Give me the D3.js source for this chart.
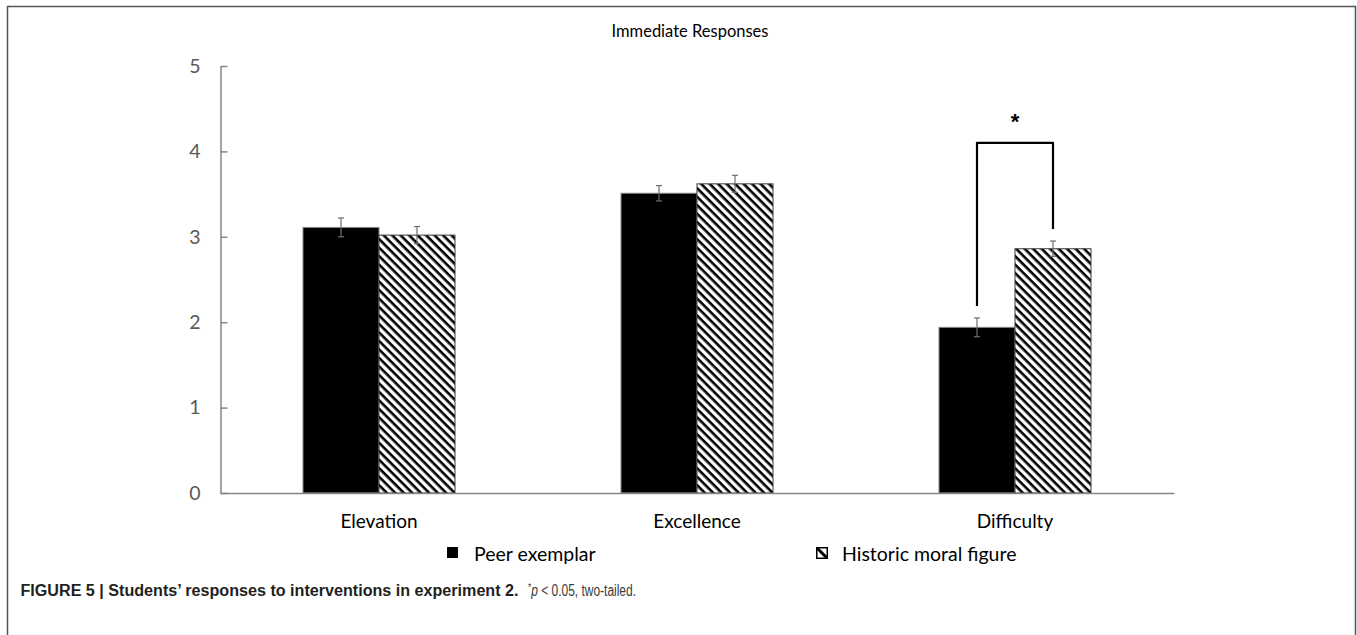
<!DOCTYPE html>
<html>
<head>
<meta charset="utf-8">
<script src="https://cdn.jsdelivr.net/npm/d3@7"></script>
<style>
  body { margin: 0; background: #fff; }
</style>
</head>
<body>
<div id="chart"></div>
<script>
var width = 1357,
    height = 635;

// ******* data ******* //
var categories = ["Elevation", "Excellence", "Difficulty"];
var seriesNames = ["Peer exemplar", "Historic moral figure"];
var peerValues = [3.11, 3.51, 1.94];
var peerErrors = [0.11, 0.09, 0.11];
var historicValues = [3.02, 3.62, 2.86];
var historicErrors = [0.10, 0.10, 0.09];
var yTicks = [0, 1, 2, 3, 4, 5];
var bracketLevel = 4.1;   // height of the significance bracket
var bracketCategory = "Difficulty";

var chartFont = "Lato, 'Open Sans', sans-serif";
var captionFont = "'Liberation Sans', Arial, sans-serif";

var svg = d3.select("#chart")
    .append("svg")
    .attr("width", width)
    .attr("height", height);

svg.append("rect").attr("width", width).attr("height", height).attr("fill", "#fff");

// hatch pattern (downward diagonal)
var defs = svg.append("defs");
var pat = defs.append("pattern")
    .attr("id", "hatch")
    .attr("patternUnits", "userSpaceOnUse")
    .attr("width", 6)
    .attr("height", 6)
    .attr("patternTransform", "rotate(45)");
pat.append("rect").attr("width", 6).attr("height", 6).attr("fill", "#fff");
pat.append("rect").attr("x", 0).attr("y", 0).attr("width", 6).attr("height", 2.6).attr("fill", "#000");

// outer frame (open at the bottom)
svg.append("path")
    .attr("d", "M7.5,640 L7.5,6.5 L1355.5,6.5 L1355.5,640")
    .attr("fill", "none")
    .attr("stroke", "#555")
    .attr("stroke-width", 1.5);

// ******* scales ******* //
var x0 = d3.scaleBand()
    .domain(categories)
    .range([220, 1174])
    .paddingInner(0.522)
    .paddingOuter(0.261);

var x1 = d3.scaleBand()
    .domain(seriesNames)
    .range([0, x0.bandwidth()]);

var y = d3.scaleLinear()
    .domain([0, 5])
    .range([493, 66]);

// ******* title ******* //
svg.append("text")
    .attr("x", 690)
    .attr("y", 37)
    .attr("text-anchor", "middle")
    .style("font-family", chartFont)
    .style("font-size", "16.5px")
    .attr("fill", "#000")
    .text("Immediate Responses");

// ******* bars ******* //
var rows = categories.map(function(c, i) {
    return [
        { cat: c, series: seriesNames[0], value: peerValues[i], err: peerErrors[i] },
        { cat: c, series: seriesNames[1], value: historicValues[i], err: historicErrors[i] }
    ];
});

var groups = svg.append("g").attr("class", "bars")
    .selectAll("g")
    .data(rows)
    .enter().append("g")
    .attr("transform", function(d) { return "translate(" + x0(d[0].cat) + ",0)"; });

groups.selectAll("rect")
    .data(function(d) { return d; })
    .enter().append("rect")
    .attr("x", function(d) { return x1(d.series); })
    .attr("y", function(d) { return y(d.value); })
    .attr("width", x1.bandwidth())
    .attr("height", function(d) { return y(0) - y(d.value); })
    .attr("fill", function(d) { return d.series === seriesNames[0] ? "#000" : "url(#hatch)"; })
    .attr("stroke", function(d) { return d.series === seriesNames[0] ? "#8a8a8a" : "#3a3a3a"; })
    .attr("stroke-width", 1);

// error bars
var eb = groups.selectAll("g.err")
    .data(function(d) { return d; })
    .enter().append("g")
    .attr("class", "err")
    .attr("stroke", "#6e6e6e")
    .attr("stroke-width", 1.2);

function cx(d) { return x1(d.series) + x1.bandwidth() / 2; }

eb.append("line")
    .attr("x1", cx).attr("x2", cx)
    .attr("y1", function(d) { return y(d.value + d.err); })
    .attr("y2", function(d) { return y(d.value - d.err); });
eb.append("line")
    .attr("x1", function(d) { return cx(d) - 3; }).attr("x2", function(d) { return cx(d) + 3; })
    .attr("y1", function(d) { return y(d.value + d.err); })
    .attr("y2", function(d) { return y(d.value + d.err); });
eb.append("line")
    .attr("x1", function(d) { return cx(d) - 3; }).attr("x2", function(d) { return cx(d) + 3; })
    .attr("y1", function(d) { return y(d.value - d.err); })
    .attr("y2", function(d) { return y(d.value - d.err); });

// ******* axes ******* //
var yAxis = d3.axisLeft(y)
    .tickValues(yTicks)
    .tickSizeInner(-7)
    .tickSizeOuter(0)
    .tickPadding(20)
    .tickFormat(d3.format("d"));

var gy = svg.append("g")
    .attr("transform", "translate(220.5,0)")
    .call(yAxis);
gy.select(".domain").attr("stroke", "#868686").attr("stroke-width", 1.5);
gy.selectAll(".tick line").attr("stroke", "#868686").attr("stroke-width", 1.5);
gy.selectAll(".tick text")
    .style("font-family", chartFont)
    .style("font-size", "19.5px")
    .attr("fill", "#595959");

var xAxis = d3.axisBottom(x0).tickSize(0).tickPadding(22);
var gx = svg.append("g")
    .attr("transform", "translate(0," + y(0) + ")")
    .call(xAxis);
gx.select(".domain").attr("stroke", "#868686").attr("stroke-width", 1.5);
gx.selectAll(".tick text")
    .style("font-family", chartFont)
    .style("font-size", "19px")
    .attr("fill", "#000");

// ******* significance bracket ******* //
var bracketRow = rows[categories.indexOf(bracketCategory)];
var bx1 = x0(bracketCategory) + cx(bracketRow[0]);
var bx2 = x0(bracketCategory) + cx(bracketRow[1]);
var by = y(bracketLevel);
var l1 = y(bracketRow[0].value + bracketRow[0].err) - 12;
var l2 = y(bracketRow[1].value + bracketRow[1].err) - 12;

svg.append("path")
    .attr("d", d3.line()([[bx1, l1], [bx1, by], [bx2, by], [bx2, l2]]))
    .attr("fill", "none")
    .attr("stroke", "#000")
    .attr("stroke-width", 2.2)
    .attr("stroke-linejoin", "round");

svg.append("text")
    .attr("x", (bx1 + bx2) / 2)
    .attr("y", by - 14)
    .attr("text-anchor", "middle")
    .style("font-family", captionFont)
    .style("font-weight", "bold")
    .style("font-size", "22px")
    .text("*");

// ******* legend ******* //
var legend = svg.append("g").attr("class", "legend");
var legendX = [447, 816];

legend.append("rect")
    .attr("x", legendX[0]).attr("y", 547)
    .attr("width", 11).attr("height", 11)
    .attr("fill", "#000");
legend.append("text")
    .attr("x", legendX[0] + 27).attr("y", 561)
    .style("font-family", chartFont)
    .style("font-size", "19.5px")
    .text(seriesNames[0]);

legend.append("rect")
    .attr("x", legendX[1] + 0.75).attr("y", 547.75)
    .attr("width", 10.5).attr("height", 10.5)
    .attr("fill", "#fff")
    .attr("stroke", "#000")
    .attr("stroke-width", 1.5);
legend.append("line")
    .attr("x1", legendX[1] + 1.5).attr("y1", 548.5)
    .attr("x2", legendX[1] + 10.5).attr("y2", 557.5)
    .attr("stroke", "#000")
    .attr("stroke-width", 3);
legend.append("text")
    .attr("x", legendX[1] + 26).attr("y", 561)
    .style("font-family", chartFont)
    .style("font-size", "19.5px")
    .text(seriesNames[1]);

// ******* caption ******* //
svg.append("text")
    .attr("x", 20.5)
    .attr("y", 596)
    .style("font-family", captionFont)
    .style("font-weight", "bold")
    .style("font-size", "16px")
    .attr("fill", "#231f20")
    .attr("textLength", 498)
    .attr("lengthAdjust", "spacingAndGlyphs")
    .text("FIGURE 5 | Students\u2019 responses to interventions in experiment 2.");

var cap2 = svg.append("text")
    .attr("x", 528)
    .attr("y", 596)
    .style("font-family", captionFont)
    .style("font-size", "16px")
    .attr("fill", "#3a3a3a")
    .attr("textLength", 108)
    .attr("lengthAdjust", "spacingAndGlyphs");
cap2.append("tspan").attr("dy", -5).style("font-size", "11px").text("*");
cap2.append("tspan").attr("dy", 5).style("font-style", "italic").text("p");
cap2.append("tspan").text(" < 0.05, two-tailed.");
</script>
</body>
</html>
